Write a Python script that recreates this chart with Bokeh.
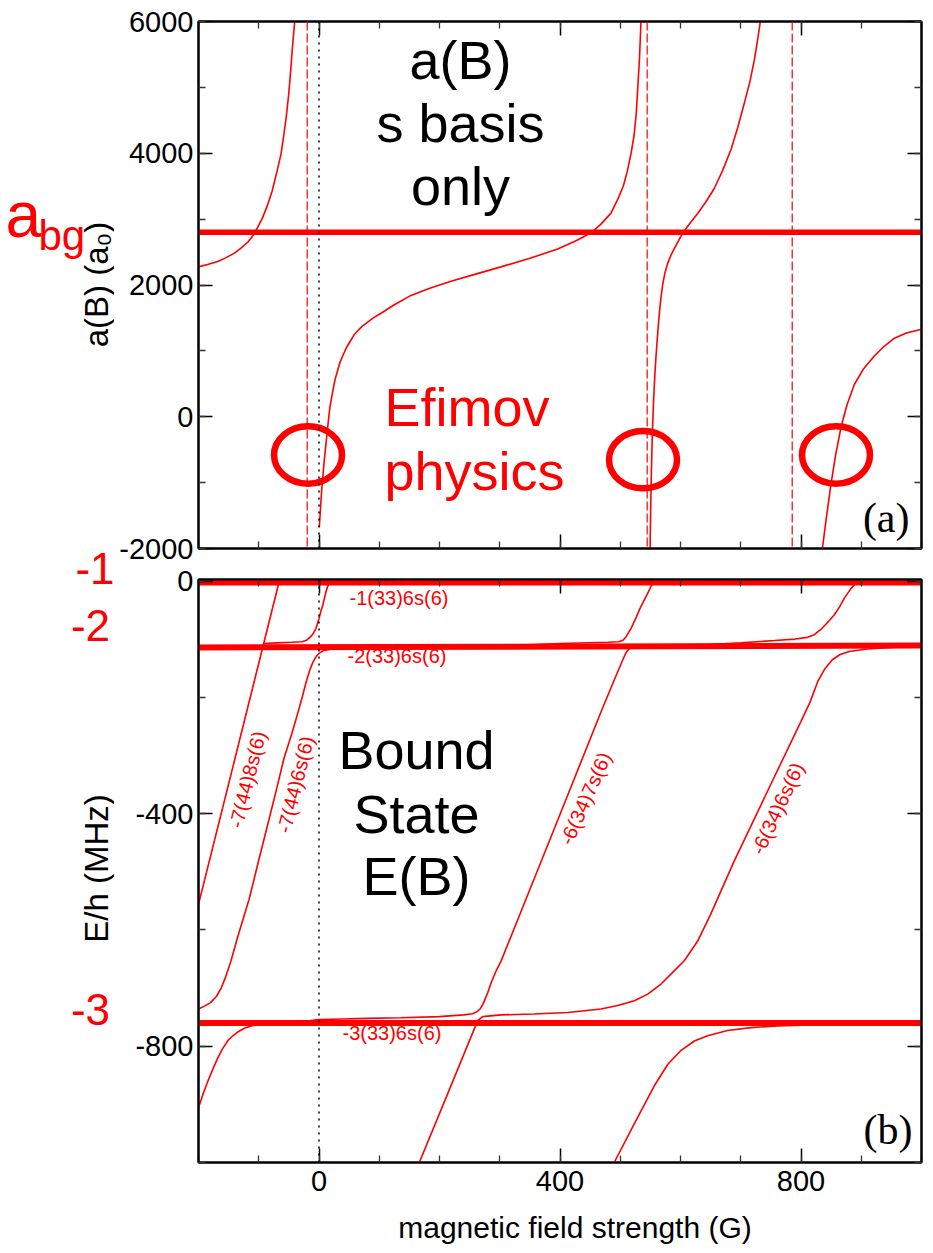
from math import pi

from bokeh.plotting import figure
from bokeh.layouts import column, row
from bokeh.models import Range1d, LinearAxis, FixedTicker, Label, Span
from bokeh.embed import file_html
from bokeh.resources import INLINE

# ---------------------------------------------------------------- data
field_major = [0, 400, 800]
field_minor = list(range(-200, 1001, 100))
field_tick_labels = ["0", "400", "800"]

a_major = [-2000, 0, 2000, 4000, 6000]
a_minor = list(range(-2000, 6001, 1000))
a_tick_labels = ["-2000", "0", "2000", "4000", "6000"]

E_major = [-800, -400, 0]
E_minor = list(range(-1000, 1, 200))
E_tick_labels = ["-800", "-400", "0"]

# (a) scattering length a(B) in units of a0, field B in G
a_bg = 2800
branch1_B = [-200, -185, -168, -155, -141, -130, -118, -110, -102, -94, -86, -78, -69.4,
             -63, -58.4, -54, -50, -47, -44.5, -42, -40.3]
branch1_a = [2275, 2312, 2358, 2412, 2480, 2555, 2653, 2745, 2870, 3015, 3197, 3420, 3736,
             3990, 4277, 4580, 4925, 5250, 5560, 5830, 6000]
branch2_B = [0.5, 4.4, 8.9, 14.4, 18, 22.7, 26.5, 31, 35, 39.3, 45, 53, 58, 64, 72, 80.8,
             90, 103, 125, 152.7, 185, 219, 260, 302, 350, 396, 425, 451, 468, 484.6, 496,
             505, 512, 518, 523, 526.5, 529, 532, 534.4]
branch2_a = [-1676, -1120, -647, -160, 140, 380, 560, 706, 830, 922, 1040, 1165, 1240, 1301,
             1375, 1436, 1500, 1571, 1700, 1842, 1955, 2058, 2165, 2275, 2405, 2545, 2665,
             2789, 2924, 3091, 3303, 3500, 3736, 4000, 4277, 4600, 4980, 5450, 6000]
branch3_B = [549.5, 550.7, 551.8, 553, 554.3, 555.6, 557, 558.5, 560, 561.6, 563.3, 565.2,
             567.5, 570.3, 573.8, 578.7, 585, 592.5, 603.6, 615, 628.5, 642, 656, 670, 684,
             695, 706, 715, 722.5, 728, 732.5]
branch3_a = [-2000, -1300, -800, -350, 0, 300, 560, 800, 1000, 1200, 1400, 1600, 1800, 2000,
             2170, 2328, 2470, 2600, 2789, 2930, 3086, 3260, 3465, 3740, 4060, 4390, 4764,
             5080, 5413, 5720, 6000]
branch4_B = [835.5, 842, 849.8, 857.5, 866.4, 876, 888.5, 904, 921.7, 938, 955, 975, 1000]
branch4_a = [-2000, -1540, -1020, -580, -160, 170, 490, 730, 922, 1070, 1193, 1270, 1328]
pole_B = [-19.6, 544.7, 785.4]
efimov_B = [-18.2, 537.8, 858.1]
efimov_a = [-580, -652, -580]

# (b) bound state energies E/h in MHz
level1_B, level1_E = [-200, 1000], [-2, -2]
level2_B, level2_E = [-200, 1000], [-114, -110.5]
level3_B, level3_E = [-200, 1000], [-760, -760]

s8_B = [-200, -118, -66]
s8_E = [-556, -216, 0]
s6_upper_B = [-92, -70, -45, -28, -20, -13.3, -9, -5, 0, 3, 6.6, 9, 11.6, 14, 16.6, 19]
s6_upper_E = [-107, -106, -105, -104, -101, -95, -89, -81, -64, -52, -40, -29, -18, -10,
              -4, 0]
s6_B = [-200, -190, -180, -170, -162, -155, -146, -135, -116, -100, -85, -70, -58, -45,
        -35, -28, -21, -15, -10, -5, 0, 8, 20, 50, 150, 300, 400, 480, 498, 505, 510, 518,
        526, 534, 544, 554, 556]
s6_E = [-736, -731, -725, -714, -699, -681, -653, -612, -547, -480, -418, -356, -304, -262,
        -226, -200, -172, -152, -139, -130, -124, -119, -117, -115, -113, -111, -107, -105,
        -104, -101, -95, -81, -63, -44, -24, -3, 0]
s7_B = [-200, -192, -184, -176, -168, -160, -151, -143, -134, -124, -113, -100, -85, -60,
        -30, 0, 40, 80, 136, 200, 240, 255, 263, 268, 272, 276, 280, 286, 295, 302, 385,
        468, 490, 503, 510, 516, 530, 600, 700, 756, 790, 811, 822, 833, 844, 855, 864,
        872, 882, 891, 893]
s7_E = [-906, -881, -859, -839, -820, -804, -790, -782, -775, -769, -765, -763, -761, -760,
        -758, -754, -753, -752, -751, -749, -746, -744, -740, -735, -728, -718, -708, -690,
        -668, -654, -440, -225, -170, -138, -122, -115, -113, -112, -106, -102, -99.5,
        -96.5, -92, -83, -71, -58, -44, -29, -14, -3, 0]
p7_B = [166.5, 215, 263.4, 271.7, 302, 357, 412.8, 468, 495.8, 523.4, 545.6, 567.7, 587,
        606.3, 628.5, 650, 689.3, 745, 800, 815, 828, 840, 852, 865, 880, 910, 950, 1000]
p7_E = [-1000, -878, -756, -749, -746, -744.6, -741.9, -736, -730, -721.8, -710.3, -693,
        -673, -653, -619, -573, -481, -360, -241, -208, -172, -150, -135, -126, -121,
        -116.5, -114, -111]
p6_B = [490, 523, 556.5, 579, 601, 623, 645, 678, 717, 761, 850, 1000]
p6_E = [-1000, -934, -868, -831, -807, -791, -782, -773, -768, -765, -762, -761]

# ---------------------------------------------------------------- layout
FONT = "Liberation Sans"
RED = "#ff0000"
X_RANGE = (-200, 1000)
A_RANGE = (-2000, 6000)
E_RANGE = (-1000, 3)

PAGE_W, PAGE_H = 933, 1253
LEFT, RIGHT = 198, 921          # frame edges, both panels
TOP_A, BOT_A = 21, 548          # frame (a)
TOP_E, BOT_E = 579, 1162        # frame (b)
SPLIT = 564                     # page row where panel (b) starts
FOOT = 1207                     # page row where the field-axis title strip starts
STRIP = 114                     # width of the full-height left margin strip
TICK_FONT = "29px"
TITLE_FONT = 33


def px_B(px):
    return X_RANGE[0] + (px - LEFT) * (X_RANGE[1] - X_RANGE[0]) / (RIGHT - LEFT)


def py_a(py):
    return A_RANGE[1] - (py - TOP_A) * (A_RANGE[1] - A_RANGE[0]) / (BOT_A - TOP_A)


def py_E(py):
    return E_RANGE[1] - (py - TOP_E) * (E_RANGE[1] - E_RANGE[0]) / (BOT_E - TOP_E)


def mid(baseline, size):
    # vertical centre of a line of text whose baseline sits at `baseline`
    return baseline - 0.35 * size


def style_axis(ax, ticker, labels=None, standoff=5):
    ax.ticker = ticker
    ax.major_tick_in = 14
    ax.major_tick_out = 0
    ax.minor_tick_in = 7
    ax.minor_tick_out = 0
    ax.axis_line_color = "black"
    ax.axis_line_width = 2
    ax.major_tick_line_color = "black"
    ax.major_tick_line_width = 1.5
    ax.minor_tick_line_color = "#333333"
    ax.minor_tick_line_width = 1.3
    if labels is None:
        ax.major_label_overrides = {t: "" for t in ticker.ticks}
        ax.major_label_text_font_size = "0px"
        ax.major_label_standoff = 0
    else:
        ax.major_label_overrides = {t: s for t, s in zip(ticker.ticks, labels)}
        ax.major_label_text_font = FONT
        ax.major_label_text_font_size = TICK_FONT
        ax.major_label_text_color = "black"
        ax.major_label_standoff = standoff


def make_panel(height, y_range, border_top, border_bottom):
    p = figure(width=PAGE_W - STRIP, height=height, x_range=Range1d(*X_RANGE),
               y_range=Range1d(*y_range), output_backend="svg",
               toolbar_location=None, min_border_left=LEFT - STRIP,
               min_border_right=PAGE_W - RIGHT, min_border_top=border_top,
               min_border_bottom=border_bottom)
    p.xgrid.visible = False
    p.ygrid.visible = False
    p.outline_line_color = "black"
    p.outline_line_width = 2
    p.background_fill_color = "white"
    p.border_fill_color = "white"
    p.add_layout(LinearAxis(), "above")
    p.add_layout(LinearAxis(), "right")
    return p


def make_strip(width, height):
    # a bare canvas whose frame is the whole strip: one data unit per pixel
    s = figure(width=width, height=height, x_range=Range1d(0, width),
               y_range=Range1d(0, height), output_backend="svg",
               toolbar_location=None, x_axis_location=None, y_axis_location=None,
               min_border=0, min_border_left=0, min_border_right=0,
               min_border_top=0, min_border_bottom=0)
    s.frame_align = False
    s.grid.visible = False
    s.outline_line_color = None
    s.background_fill_color = "white"
    s.border_fill_color = "white"
    return s


def text(p, s, x, y, size, color="black", align="left", angle=0.0, font=FONT):
    p.add_layout(Label(x=x, y=y, text=s, text_font=font, text_font_size=size,
                       text_color=color, text_align=align, text_baseline="middle",
                       angle=angle))


def field_ticker():
    return FixedTicker(ticks=field_major, minor_ticks=field_minor)


# ---------------------------------------------------------------- panel (a)
pa = make_panel(SPLIT, A_RANGE, TOP_A, SPLIT - BOT_A)
style_axis(pa.below[0], field_ticker())
style_axis(pa.above[0], field_ticker())
style_axis(pa.left[0], FixedTicker(ticks=a_major, minor_ticks=a_minor), a_tick_labels)
style_axis(pa.right[0], FixedTicker(ticks=a_major, minor_ticks=a_minor))

pa.add_layout(Span(location=0, dimension="height", line_color="black",
                   line_dash="2 5", line_width=1.5))
for b in pole_B:
    pa.add_layout(Span(location=b, dimension="height", line_color=RED,
                       line_dash="9 3", line_width=1.2))

for bx, ay in [(branch1_B, branch1_a), (branch2_B, branch2_a),
               (branch3_B, branch3_a), (branch4_B, branch4_a)]:
    pa.line(bx, ay, line_color=RED, line_width=1.6)

pa.line(list(X_RANGE), [a_bg, a_bg], line_color=RED, line_width=5.5)
pa.ellipse(efimov_B, efimov_a, width=112.9, height=871, fill_color=None,
           line_color=RED, line_width=6.5)

text(pa, "a(B)", px_B(460), py_a(mid(78, 54)), "54px", align="center")
text(pa, "s basis", px_B(460), py_a(mid(141, 54)), "54px", align="center")
text(pa, "only", px_B(460), py_a(mid(204, 54)), "54px", align="center")
text(pa, "Efimov", px_B(384), py_a(mid(425, 54)), "54px", color=RED)
text(pa, "physics", px_B(384), py_a(mid(489, 54)), "54px", color=RED)
text(pa, "(a)", px_B(909), py_a(517), "42px", align="right", font="Liberation Serif")

# ---------------------------------------------------------------- panel (b)
pb = make_panel(FOOT - SPLIT, E_RANGE, TOP_E - SPLIT, FOOT - BOT_E)
style_axis(pb.below[0], field_ticker(), field_tick_labels, standoff=8)
style_axis(pb.above[0], field_ticker())
style_axis(pb.left[0], FixedTicker(ticks=E_major, minor_ticks=E_minor), E_tick_labels)
style_axis(pb.right[0], FixedTicker(ticks=E_major, minor_ticks=E_minor))

pb.add_layout(Span(location=0, dimension="height", line_color="black",
                   line_dash="2 5", line_width=1.5))

for bx, ey in [(s8_B, s8_E), (s6_upper_B, s6_upper_E), (s6_B, s6_E), (s7_B, s7_E),
               (p7_B, p7_E), (p6_B, p6_E)]:
    pb.line(bx, ey, line_color=RED, line_width=1.6)

for bx, ey in [(level1_B, level1_E), (level2_B, level2_E), (level3_B, level3_E)]:
    pb.line(bx, ey, line_color=RED, line_width=6)

text(pb, "-1(33)6s(6)", px_B(349), py_E(597.5), "20px", color=RED)
text(pb, "-2(33)6s(6)", px_B(347), py_E(655), "20px", color=RED)
text(pb, "-3(33)6s(6)", px_B(342), py_E(1032), "20px", color=RED)
text(pb, "-7(44)8s(6)", px_B(247), py_E(779), "20px", color=RED, align="center",
     angle=76 * pi / 180)
text(pb, "-7(44)6s(6)", px_B(295), py_E(784), "20px", color=RED, align="center",
     angle=76 * pi / 180)
text(pb, "-6(34)7s(6)", px_B(585), py_E(798), "20px", color=RED, align="center",
     angle=66 * pi / 180)
text(pb, "-6(34)6s(6)", px_B(777), py_E(808), "20px", color=RED, align="center",
     angle=65 * pi / 180)

text(pb, "Bound", px_B(416), py_E(mid(768, 54)), "54px", align="center")
text(pb, "State", px_B(416), py_E(mid(832, 54)), "54px", align="center")
text(pb, "E(B)", px_B(416), py_E(mid(894, 54)), "54px", align="center")
text(pb, "(b)", px_B(912), py_E(1129), "42px", align="right", font="Liberation Serif")

# field axis title under panel (b)
foot_h = PAGE_H - FOOT
sx = make_strip(PAGE_W - STRIP, foot_h)
text(sx, "magnetic field strength (G)", 574.5 - STRIP, foot_h - (mid(1237, 30) - FOOT),
     "30px", align="center")

# full-height left margin: axis titles, a_bg marker and level numbers
sl = make_strip(STRIP, PAGE_H)


def sl_y(page_y):
    return PAGE_H - page_y


title_x = (STRIP - 0.212 * TITLE_FONT) - 0.3465 * TITLE_FONT
text(sl, "a(B) (a\u2080)", title_x, sl_y(284), f"{TITLE_FONT}px", align="center",
     angle=pi / 2)
text(sl, "E/h (MHz)", title_x, sl_y(868), f"{TITLE_FONT}px", align="center",
     angle=pi / 2)
text(sl, "a", 5, sl_y(mid(237, 64)), "64px", color=RED)
text(sl, "bg", 38, sl_y(mid(250, 42)), "42px", color=RED)
text(sl, "-1", STRIP, sl_y(mid(583, 44)), "44px", color=RED, align="right")
text(sl, "-2", 109.5, sl_y(mid(640, 44)), "44px", color=RED, align="right")
text(sl, "-3", 109.5, sl_y(mid(1024, 44)), "44px", color=RED, align="right")

layout = row(sl, column(pa, pb, sx, spacing=0), spacing=0)
open("out.html", "w").write(file_html(layout, INLINE))
